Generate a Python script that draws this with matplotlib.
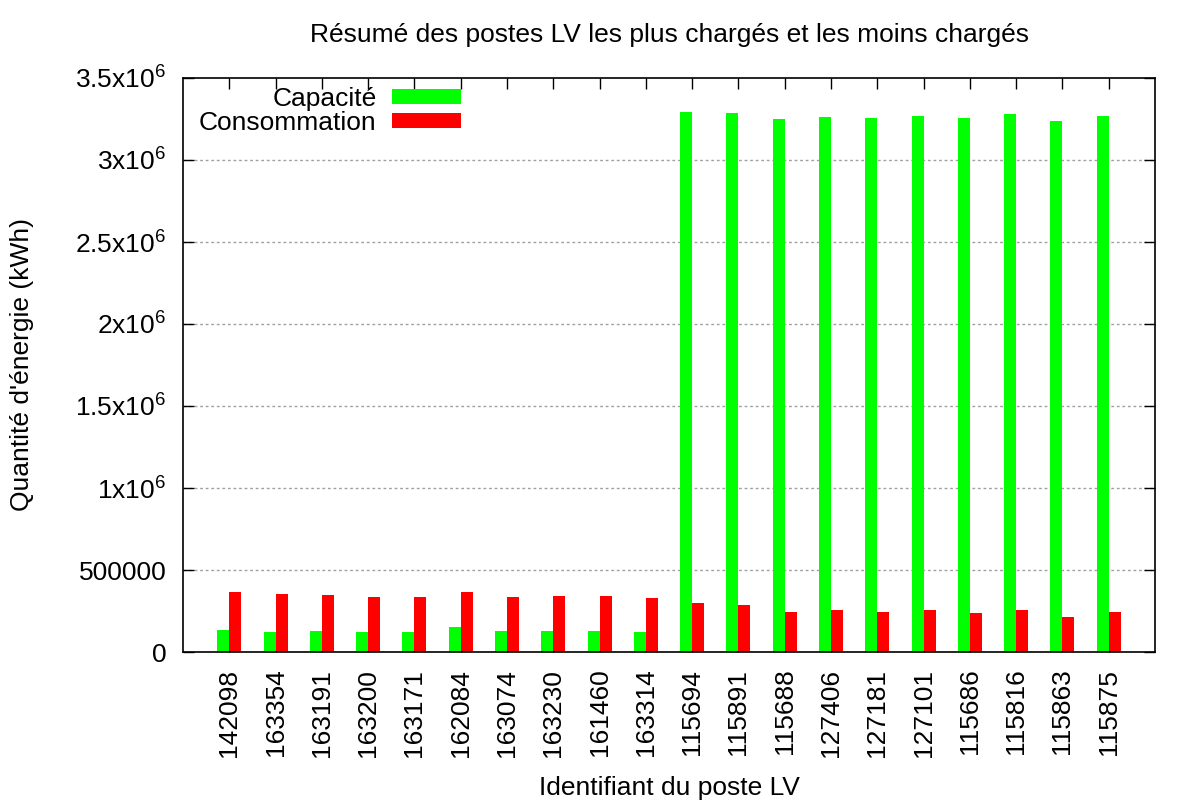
import numpy as np
import matplotlib
matplotlib.use('Agg')
import matplotlib.pyplot as plt
from matplotlib.ticker import FixedLocator, FixedFormatter

plt.rcParams['font.family'] = ['Liberation Sans', 'DejaVu Sans']
plt.rcParams['mathtext.fontset'] = 'custom'
plt.rcParams['mathtext.rm'] = 'Liberation Sans'
plt.rcParams['mathtext.it'] = 'Liberation Sans'

postes = ['142098', '163354', '163191', '163200', '163171', '162084', '163074',
          '163230', '161460', '163314', '115694', '115891', '115688', '127406',
          '127181', '127101', '115686', '115816', '115863', '115875']
capacite = [134000, 122000, 128000, 122000, 122000, 152000, 128000, 128000, 128000, 122000,
            3293000, 3287000, 3250000, 3262000, 3256000, 3268000, 3256000, 3280000, 3238000, 3268000]
consommation = [366000, 354000, 348000, 335000, 335000, 366000, 335000, 341000, 341000, 329000,
                299000, 287000, 244000, 256000, 244000, 256000, 238000, 256000, 213000, 244000]

yticks = [0, 500000, 1000000, 1500000, 2000000, 2500000, 3000000, 3500000]
ylabels = ['0', '500000', r'1x10$^6$', r'1.5x10$^6$', r'2x10$^6$', r'2.5x10$^6$',
           r'3x10$^6$', r'3.5x10$^6$']

fs = 19

fig = plt.figure(figsize=(12, 8), dpi=100)
ax = fig.add_axes([0.1525, 0.185, 0.81, 0.7175])

x = np.arange(len(postes))
w = 0.26
ax.bar(x - w / 2, capacite, w, color='#00ff00', label='Capacité', zorder=2)
ax.bar(x + w / 2, consommation, w, color='#ff0000', label='Consommation', zorder=2)

ax.set_xlim(-1, len(postes))
ax.set_ylim(0, 3500000)
ax.set_xticks(x)
ax.set_xticklabels(postes, rotation=90, fontsize=fs)
ax.yaxis.set_major_locator(FixedLocator(yticks))
ax.yaxis.set_major_formatter(FixedFormatter(ylabels))
ax.tick_params(axis='y', labelsize=fs, pad=12)
ax.tick_params(axis='x', pad=12)
ax.tick_params(direction='in', length=8, width=1, top=True, right=True)
ax.set_axisbelow(True)

for yv in yticks[1:-1]:
    ax.axhline(yv, color='#a0a0a0', linestyle=(0, (2, 2)), linewidth=1, zorder=0)

for s in ax.spines.values():
    s.set_linewidth(1.2)

ax.set_title('Résumé des postes LV les plus chargés et les moins chargés', fontsize=fs, pad=26)
ax.set_xlabel('Identifiant du poste LV', fontsize=fs, labelpad=14)
ax.set_ylabel("Quantité d'énergie (kWh)", fontsize=fs, labelpad=30)

ax.legend(loc='upper left', frameon=False, markerfirst=False, fontsize=fs,
          handlelength=2.6, handleheight=0.5, handletextpad=0.6, labelspacing=0.0,
          bbox_to_anchor=(0.0, 1.012), borderaxespad=0.2)
leg = ax.get_legend()
for t in leg.get_texts():
    t.set_ha('right')

fig.savefig('out.png', dpi=100)
